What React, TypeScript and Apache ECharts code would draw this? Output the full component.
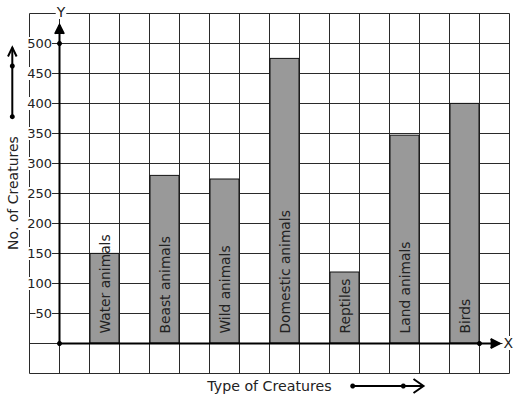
import React, { useEffect, useRef } from 'react';
import * as echarts from 'echarts';

const categories = ['Water animals', 'Beast animals', 'Wild animals', 'Domestic animals', 'Reptiles', 'Land animals', 'Birds'];
const creatureCounts = [151, 281, 275, 476, 120, 348, 401];
const yTickLabels = [50, 100, 150, 200, 250, 300, 350, 400, 450, 500];
const xAxisTitle = 'Type of Creatures';
const yAxisTitle = 'No. of Creatures';

const FONT = 'DejaVu Sans';
const INK = '#222';

export default function App() {
  const ref = useRef<HTMLDivElement>(null);
  useEffect(() => {
    const chart = echarts.init(ref.current!, null, { renderer: 'svg' });
    const gridColor = '#2a2a2a';
    chart.setOption({
      animation: false,
      backgroundColor: '#fff',
      grid: { left: 29.5, top: 13.5, width: 480, height: 360, show: false },
      xAxis: {
        type: 'value', min: -1, max: 15, interval: 1,
        axisLine: { show: false, onZero: false }, axisTick: { show: false }, axisLabel: { show: false },
        splitLine: { show: true, lineStyle: { color: gridColor, width: 1 } },
      },
      yAxis: [
        {
          type: 'value', position: 'left', min: -50, max: 550, interval: 50,
          axisLine: { show: false, onZero: false }, axisTick: { show: false }, axisLabel: { show: false },
          splitLine: { show: true, lineStyle: { color: gridColor, width: 1 } },
        },
        {
          type: 'value', position: 'left', offset: -30, min: -50, max: 550, interval: 50, z: 10,
          axisLine: { show: false, onZero: false }, axisTick: { show: false }, splitLine: { show: false },
          axisLabel: {
            show: true, margin: 7.5, fontSize: 13, fontFamily: FONT, color: INK, backgroundColor: '#fff',
            formatter: (v: number) => (yTickLabels.includes(v) ? String(v) : ''),
          },
        },
      ],
      series: [
        {
          type: 'bar', xAxisIndex: 0, yAxisIndex: 0, barWidth: 30, z: 2,
          data: categories.map((name, i) => ({ value: [1.5 + 2 * i, creatureCounts[i]], name })),
          itemStyle: { color: '#999', borderColor: '#111', borderWidth: 1 },
          label: {
            show: true, formatter: '{b}', position: 'insideBottom', rotate: 90, align: 'left',
            verticalAlign: 'middle', distance: 10, fontSize: 13.8, fontFamily: FONT, color: INK,
          },
        },
        {
          type: 'custom', xAxisIndex: 0, yAxisIndex: 0, z: 5, silent: true,
          data: [[0, 0]],
          renderItem: (_p: any, api: any) => {
            const o = api.coord([0, 0]);
            const yTip = api.coord([0, 531]);
            const y500 = api.coord([0, 500]);
            const top = api.coord([0, 550]);
            const xTip = api.coord([14.67, 0]);
            const xDot = api.coord([14, 0]);
            const st = { stroke: '#000', lineWidth: 2 };
            return {
              type: 'group',
              children: [
                { type: 'line', shape: { x1: o[0], y1: o[1], x2: yTip[0], y2: yTip[1] }, style: st },
                { type: 'polyline', shape: { points: [[yTip[0] - 4.5, yTip[1] + 9], [yTip[0], yTip[1]], [yTip[0] + 4.5, yTip[1] + 9]] }, style: st },
                { type: 'line', shape: { x1: o[0], y1: o[1], x2: xTip[0], y2: xTip[1] }, style: st },
                { type: 'polyline', shape: { points: [[xTip[0] - 9, xTip[1] - 4.5], [xTip[0], xTip[1]], [xTip[0] - 9, xTip[1] + 4.5]] }, style: st },
                { type: 'circle', shape: { cx: o[0], cy: o[1], r: 2.5 }, style: { fill: '#000' } },
                { type: 'circle', shape: { cx: y500[0], cy: y500[1], r: 2.5 }, style: { fill: '#000' } },
                { type: 'circle', shape: { cx: xDot[0], cy: xDot[1], r: 2.5 }, style: { fill: '#000' } },
                {
                  type: 'text', x: top[0] + 1.5, y: top[1] - 1.5,
                  style: { text: 'Y', font: `14px ${FONT}`, fill: INK, align: 'center', verticalAlign: 'middle', backgroundColor: '#fff', padding: [0, 1] },
                },
                {
                  type: 'text', x: xTip[0] + 8.7, y: xTip[1] - 0.5,
                  style: { text: 'X', font: `14px ${FONT}`, fill: INK, align: 'center', verticalAlign: 'middle', backgroundColor: '#fff', padding: [0, 1] },
                },
              ],
            };
          },
        },
      ],
      graphic: [
        { type: 'text', x: 12.5, y: 193, rotation: Math.PI / 2, style: { text: yAxisTitle, font: `14px ${FONT}`, fill: INK, align: 'center', verticalAlign: 'middle' } },
        { type: 'text', x: 269.5, y: 385.5, style: { text: xAxisTitle, font: `14.2px ${FONT}`, fill: INK, align: 'center', verticalAlign: 'middle' } },
        { type: 'line', shape: { x1: 12.3, y1: 116.7, x2: 12.3, y2: 47.5 }, style: { stroke: '#000', lineWidth: 2 } },
        { type: 'polyline', shape: { points: [[8, 56.5], [12.3, 47.5], [16.6, 56.5]] }, style: { stroke: '#000', lineWidth: 2 } },
        { type: 'circle', shape: { cx: 12.3, cy: 116.7, r: 2.5 }, style: { fill: '#000' } },
        { type: 'circle', shape: { cx: 12.3, cy: 66, r: 2.5 }, style: { fill: '#000' } },
        { type: 'line', shape: { x1: 352.7, y1: 386, x2: 423, y2: 386 }, style: { stroke: '#000', lineWidth: 2 } },
        { type: 'polyline', shape: { points: [[413.5, 379], [423.5, 386], [413.5, 393]] }, style: { stroke: '#000', lineWidth: 2 } },
        { type: 'circle', shape: { cx: 352.7, cy: 386, r: 2.5 }, style: { fill: '#000' } },
        { type: 'circle', shape: { cx: 403.3, cy: 386, r: 2.5 }, style: { fill: '#000' } },
      ],
    });
    return () => chart.dispose();
  }, []);
  return <div ref={ref} style={{ position: 'fixed', left: 0, top: 0, width: 517, height: 399 }} />;
}
